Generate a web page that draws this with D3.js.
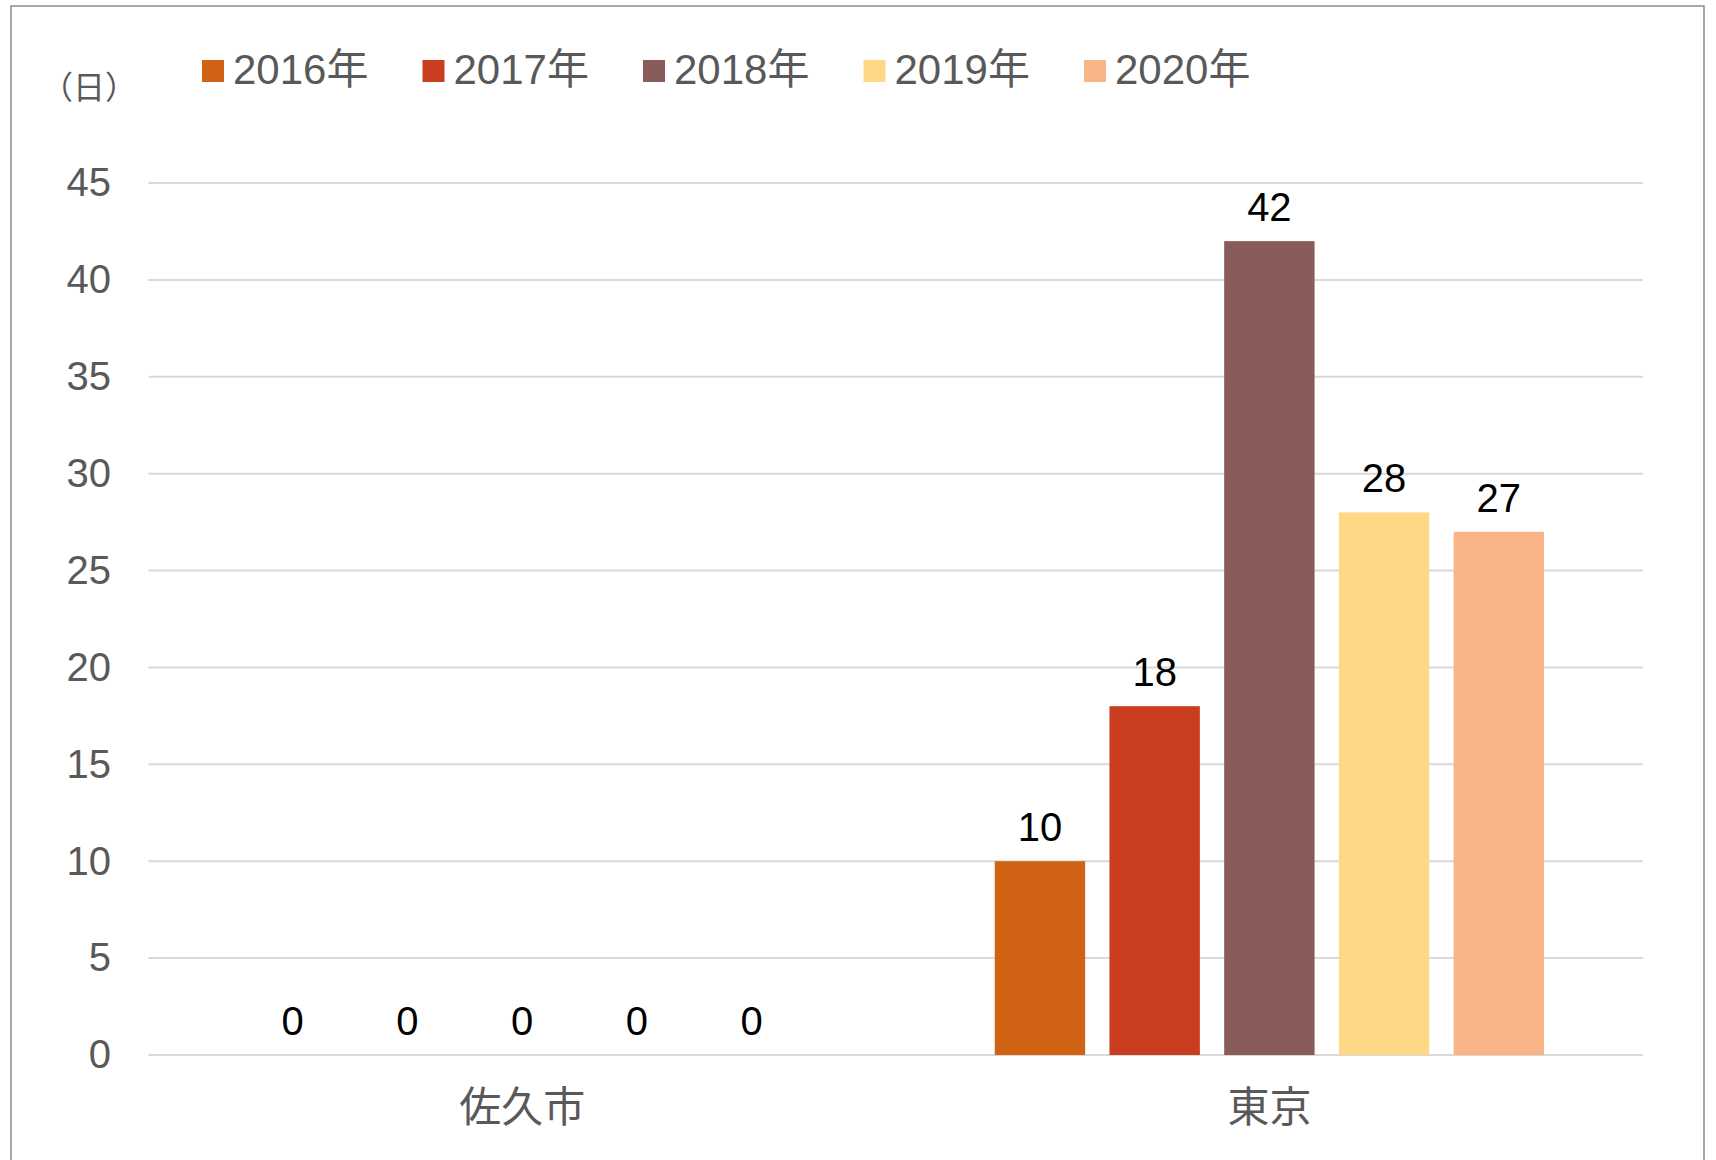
<!DOCTYPE html>
<html>
<head>
<meta charset="utf-8">
<script src="https://cdn.jsdelivr.net/npm/d3@7"></script>
<style>
  html, body { margin: 0; padding: 0; background: #fff; }
  svg { display: block; }
  text { font-family: "Liberation Sans", Arial, "Noto Sans CJK JP", sans-serif; }
</style>
</head>
<body>
<svg id="chart" width="1716" height="1160"></svg>
<script>
const categories = ["佐久市", "東京"];
const seriesNames = ["2016年", "2017年", "2018年", "2019年", "2020年"];
const values2016 = [0, 10];
const values2017 = [0, 18];
const values2018 = [0, 42];
const values2019 = [0, 28];
const values2020 = [0, 27];
const seriesColors = ["#D06213", "#CA3E1F", "#8A5B5B", "#FED886", "#F9B588"];
const yTicks = [0, 5, 10, 15, 20, 25, 30, 35, 40, 45];
const unitLabel = "（日）";

const seriesValues = [values2016, values2017, values2018, values2019, values2020];
const data = categories.map((c, ci) => ({
  category: c,
  bars: seriesNames.map((s, si) => ({ series: s, value: seriesValues[si][ci], color: seriesColors[si] }))
}));

const svg = d3.select("#chart");
const W = 1716, H = 1160;
const plot = { left: 148.5, right: 1643, top: 183, bottom: 1055 };

svg.append("rect").attr("width", W).attr("height", H).attr("fill", "#fff");
// chart border
svg.append("rect")
  .attr("x", 11).attr("y", 6).attr("width", 1693).attr("height", 1170)
  .attr("fill", "none").attr("stroke", "#8a8a8a").attr("stroke-width", 1.5);

const y = d3.scaleLinear().domain([0, 45]).range([plot.bottom, plot.top]);
const x0 = d3.scaleBand().domain(categories).range([plot.left, plot.right]).paddingInner(0).paddingOuter(0);
const x1 = d3.scaleBand().domain(seriesNames).range([0, x0.bandwidth()]).paddingInner(0.212).paddingOuter(0.863);

// gridlines
svg.append("g").selectAll("line").data(yTicks).join("line")
  .attr("x1", plot.left).attr("x2", plot.right)
  .attr("y1", d => y(d)).attr("y2", d => y(d))
  .attr("stroke", "#D9D9D9").attr("stroke-width", 2);

// y axis labels
const yAxis = d3.axisLeft(y).tickValues(yTicks).tickSize(0).tickPadding(0);
const gy = svg.append("g").attr("transform", `translate(111,0)`).call(yAxis);
gy.select(".domain").remove();
gy.selectAll("text")
  .attr("font-size", 40).attr("fill", "#595959")
  .style("font-family", "'Liberation Sans', Arial, sans-serif");

// unit label
svg.append("text").attr("x", 89).attr("y", 99).attr("text-anchor", "middle")
  .attr("font-size", 32).attr("fill", "#595959")
  .style("font-family", "'Noto Sans CJK JP', sans-serif")
  .text(unitLabel);

// bars
const groups = svg.append("g").selectAll("g").data(data).join("g")
  .attr("transform", d => `translate(${x0(d.category)},0)`);
groups.selectAll("rect").data(d => d.bars).join("rect")
  .attr("x", d => x1(d.series)).attr("width", x1.bandwidth())
  .attr("y", d => y(d.value)).attr("height", d => y(0) - y(d.value))
  .attr("fill", d => d.color);
groups.selectAll("text").data(d => d.bars).join("text")
  .attr("x", d => x1(d.series) + x1.bandwidth() / 2)
  .attr("y", d => y(d.value) - 20)
  .attr("text-anchor", "middle").attr("font-size", 40).attr("fill", "#000")
  .text(d => d.value);

// x axis labels
const xAxis = d3.axisBottom(x0).tickSize(0).tickPadding(0);
const gx = svg.append("g").attr("transform", `translate(0,1122)`).call(xAxis);
gx.select(".domain").remove();
gx.selectAll("text")
  .attr("dy", 0).attr("y", 0)
  .attr("font-size", 42).attr("fill", "#595959")
  .style("font-family", "'Noto Sans CJK JP', sans-serif");

// legend
const legendX = d3.scaleBand().domain(seriesNames).range([202, 202 + 220.5 * 5]);
const lg = svg.append("g").selectAll("g").data(seriesNames).join("g")
  .attr("transform", d => `translate(${legendX(d)},0)`);
lg.append("rect").attr("x", 0).attr("y", 60).attr("width", 22).attr("height", 22)
  .attr("fill", (d, i) => seriesColors[i]);
lg.append("text").attr("x", 31).attr("y", 84).attr("font-size", 42).attr("fill", "#595959")
  .text(d => d);
</script>
</body>
</html>
